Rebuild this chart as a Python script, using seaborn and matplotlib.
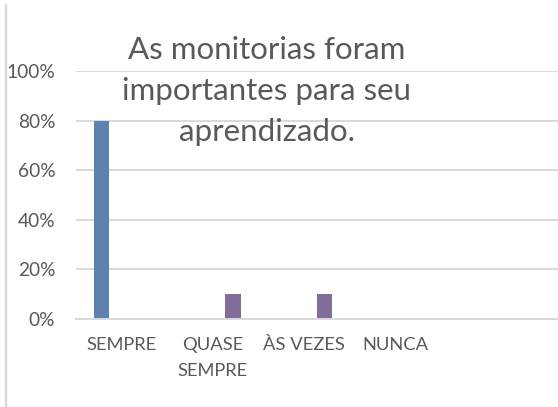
import matplotlib
matplotlib.use("Agg")
import matplotlib.pyplot as plt
from matplotlib.lines import Line2D
from matplotlib.ticker import PercentFormatter
import seaborn as sns
import pandas as pd

# Respostas por categoria (fração dos alunos)
categorias = ["SEMPRE", "QUASE\nSEMPRE", "ÀS VEZES", "NUNCA"]
serie_1 = [0.80, 0.0, 0.0, 0.0]
serie_2 = [0.0, 0.10, 0.10, 0.0]
series = ["Série 1", "Série 2"]
cores = ["#4F81BD", "#8064A2"]
yticks = [0.0, 0.2, 0.4, 0.6, 0.8, 1.0]
titulo = "As monitorias foram\nimportantes para seu\naprendizado."

dados = pd.DataFrame({
    "categoria": categorias * 2,
    "valor": serie_1 + serie_2,
    "serie": [series[0]] * len(categorias) + [series[1]] * len(categorias),
})

sns.set_theme(style="white")
plt.rcParams["font.family"] = ["Lato", "DejaVu Sans"]

texto = "#595959"
grade = "#D9D9D9"

fig = plt.figure(figsize=(5.58, 4.07), dpi=100)
ax = fig.add_axes([76 / 558, 88 / 407, 1 - 76 / 558, 248 / 407])

sns.barplot(
    data=dados, x="categoria", y="valor", hue="serie",
    palette=cores, width=0.876, gap=0.62, linewidth=0,
    legend=False, ax=ax,
)

ax.set_xlim(-0.5, 4.78)
ax.set_ylim(0, 1)
ax.set_yticks(yticks)
ax.yaxis.set_major_formatter(PercentFormatter(1.0, decimals=0))
ax.set_axisbelow(True)
ax.grid(axis="y", color=grade, linewidth=1.4)
ax.grid(axis="x", visible=False)
for lado in ["top", "right", "left"]:
    ax.spines[lado].set_visible(False)
ax.spines["bottom"].set_color(grade)
ax.spines["bottom"].set_linewidth(1.4)
ax.set_xlabel("")
ax.set_ylabel("")
ax.tick_params(axis="y", length=0, pad=15, labelsize=13.8, labelcolor=texto)
ax.tick_params(axis="x", length=0, pad=13, labelsize=13.2, labelcolor=texto)
for rotulo in ax.get_xticklabels():
    rotulo.set_linespacing(1.75)

fig.text(267 / 558, 1 - 91 / 407, titulo, ha="center", va="center",
         fontsize=22.5, color=texto, linespacing=1.58)

# borda esquerda da área do gráfico
fig.add_artist(Line2D([6 / 558, 6 / 558], [0, 1 - 5 / 407],
                      transform=fig.transFigure, color=grade, linewidth=1.6))

fig.savefig("out.png", dpi=100)
